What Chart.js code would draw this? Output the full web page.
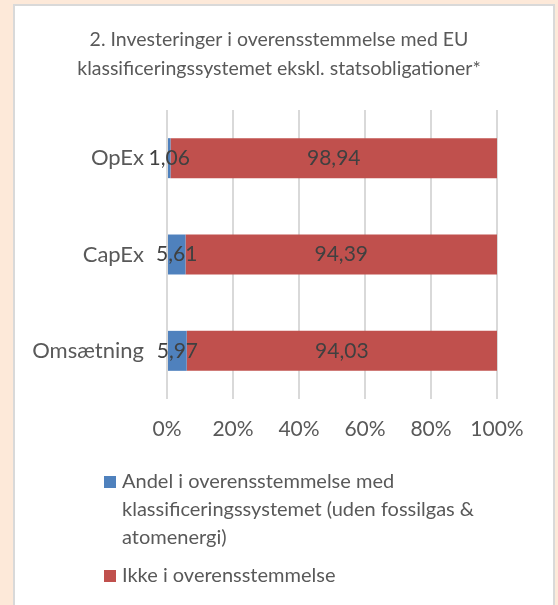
<!DOCTYPE html>
<html>
<head>
<meta charset="utf-8">
<script src="https://cdn.jsdelivr.net/npm/chart.js@4.4.1/dist/chart.umd.min.js"></script>
<style>
  html, body { margin: 0; padding: 0; background: #fde9d9; }
  #card {
    position: absolute; left: 13px; top: 4px; width: 538px; height: 620px;
    background: #ffffff; border: 2px solid #d9d9d9;
  }
  #wrap { position: absolute; left: 0; top: 0; width: 558px; height: 605px; }
</style>
</head>
<body>
<div id="card"></div>
<div id="wrap"><canvas id="chart" width="558" height="605"></canvas></div>
<script>
// Data
const categories = ['OpEx', 'CapEx', 'Omsætning'];
const alignedShare = [1.06, 5.61, 5.97];
const notAligned = [98.94, 94.39, 94.03];
const seriesNames = [
  'Andel i overensstemmelse med klassificeringssystemet (uden fossilgas & atomenergi)',
  'Ikke i overensstemmelse'
];
const titleLines = [
  '2. Investeringer i overensstemmelse med EU',
  'klassificeringssystemet ekskl. statsobligationer*'
];

const FONT = 'Lato, "Open Sans", sans-serif';
const fmt = v => v.toFixed(2).replace('.', ',');

// værdier midt i hvert segment
const barLabels = {
  id: 'barLabels',
  afterDatasetsDraw(chart) {
    const ctx = chart.ctx;
    ctx.save();
    ctx.font = '21px ' + FONT;
    ctx.fillStyle = '#404040';
    ctx.textAlign = 'center';
    ctx.textBaseline = 'middle';
    chart.data.datasets.forEach((ds, di) => {
      chart.getDatasetMeta(di).data.forEach((el, i) => {
        ctx.fillText(fmt(ds.data[i]), (el.x + el.base) / 2, el.y);
      });
    });
    ctx.restore();
  }
};

// egen legende med ombrydning af lang tekst
const wrapLegend = {
  id: 'wrapLegend',
  afterDraw(chart) {
    const ctx = chart.ctx;
    const x0 = 104, box = 12, textX = 122, lineH = 28, maxW = 380;
    let y = 482;
    ctx.save();
    ctx.font = '20px ' + FONT;
    ctx.textBaseline = 'middle';
    chart.data.datasets.forEach(ds => {
      const words = ds.label.split(' ');
      const lines = [];
      let cur = '';
      words.forEach(w => {
        const test = cur ? cur + ' ' + w : w;
        if (ctx.measureText(test).width > maxW && cur) {
          lines.push(cur);
          cur = w;
        } else {
          cur = test;
        }
      });
      lines.push(cur);
      ctx.fillStyle = ds.backgroundColor;
      ctx.fillRect(x0, y - box / 2, box, box);
      ctx.fillStyle = '#595959';
      lines.forEach((ln, k) => ctx.fillText(ln, textX, y + k * lineH));
      y += lines.length * lineH + 10;
    });
    ctx.restore();
  }
};

new Chart(document.getElementById('chart'), {
  type: 'bar',
  data: {
    labels: categories,
    datasets: [
      { label: seriesNames[0], data: alignedShare, backgroundColor: '#4f81bd' },
      { label: seriesNames[1], data: notAligned, backgroundColor: '#c0504d' }
    ]
  },
  options: {
    indexAxis: 'y',
    responsive: false,
    animation: false,
    barPercentage: 0.415,
    categoryPercentage: 1,
    layout: { padding: 0 },
    plugins: {
      legend: { display: false },
      tooltip: { enabled: false },
      title: {
        display: true,
        text: titleLines,
        color: '#595959',
        font: { family: FONT, size: 19.5, weight: 'normal', lineHeight: 1.5 },
        padding: { top: 25, bottom: 26.5 }
      }
    },
    scales: {
      x: {
        stacked: true,
        min: 0,
        max: 100,
        ticks: {
          stepSize: 20,
          padding: 18,
          color: '#595959',
          font: { family: FONT, size: 21 },
          callback: v => v + '%'
        },
        grid: { color: '#d9d9d9', lineWidth: 2, drawTicks: false },
        border: { display: false },
        afterFit: s => { s.height = 206; }
      },
      y: {
        stacked: true,
        ticks: {
          padding: 23,
          color: '#595959',
          font: { family: FONT, size: 22 }
        },
        grid: { display: false, drawTicks: false },
        border: { display: false },
        afterFit: s => { s.width = 167; }
      },
      // tom akse til højre, så titlen står midt på kortet
      yRight: {
        position: 'right',
        ticks: { display: false },
        grid: { display: false, drawTicks: false },
        border: { display: false },
        afterFit: s => { s.width = 61; }
      }
    }
  },
  plugins: [barLabels, wrapLegend]
});
</script>
</body>
</html>
